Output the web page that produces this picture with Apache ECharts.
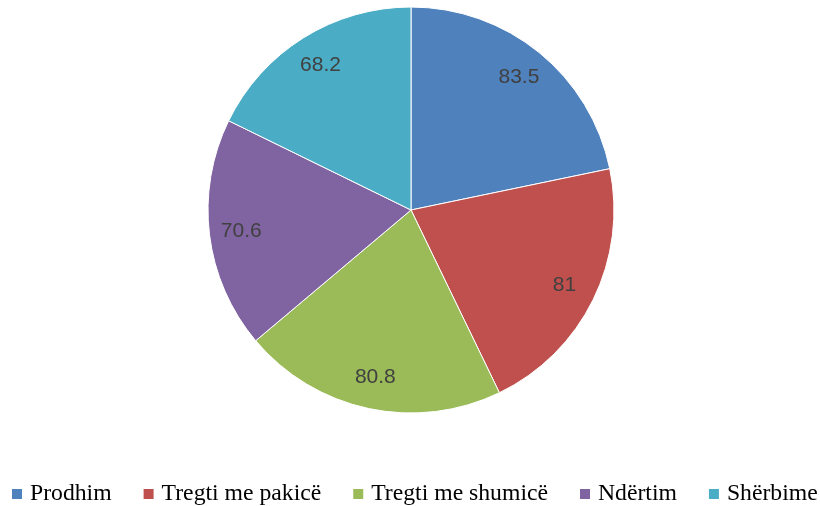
<!DOCTYPE html>
<html>
<head>
<meta charset="utf-8">
<script src="https://cdn.jsdelivr.net/npm/echarts@6/dist/echarts.min.js"></script>
<style>
html, body { margin: 0; padding: 0; background: #fff; }
#chart { width: 820px; height: 506px; }
</style>
</head>
<body>
<div id="chart"></div>
<script>
// sektoret dhe vlerat
const categories = ['Prodhim', 'Tregti me pakicë', 'Tregti me shumicë', 'Ndërtim', 'Shërbime'];
const values = [83.5, 81, 80.8, 70.6, 68.2];
const colors = ['#4F81BD', '#C0504D', '#9BBB59', '#8064A2', '#4BACC6'];

const pieData = categories.map((c, i) => ({ name: c, value: values[i] }));

let chart = echarts.init(document.getElementById('chart'));
chart.setOption({
  animation: false,
  color: colors,
  legend: {
    data: categories,
    left: 12,
    top: 482,
    width: 900,
    padding: 0,
    itemWidth: 10,
    itemHeight: 10,
    itemGap: 32,
    icon: 'rect',
    itemStyle: { borderWidth: 0 },
    textStyle: {
      fontFamily: 'Liberation Serif',
      fontSize: 23.7,
      color: '#000',
      padding: [0, 0, 0, 3]
    }
  },
  series: [
    {
      type: 'pie',
      center: [411, 210],
      radius: [0, 203],
      startAngle: 90,
      clockwise: true,
      data: pieData,
      label: { show: false },
      labelLine: { show: false },
      itemStyle: { borderColor: '#fff', borderWidth: 1 }
    },
    {
      // vetem per etiketat, pak me larg nga qendra
      type: 'pie',
      center: [411, 210],
      radius: [133, 203],
      startAngle: 90,
      clockwise: true,
      silent: true,
      legendHoverLink: false,
      data: pieData,
      itemStyle: { color: 'rgba(0,0,0,0)', borderWidth: 0 },
      label: {
        show: true,
        position: 'inside',
        formatter: '{c}',
        fontFamily: 'Liberation Sans',
        fontSize: 21,
        color: '#404040'
      },
      labelLine: { show: false }
    }
  ]
});
</script>
</body>
</html>
